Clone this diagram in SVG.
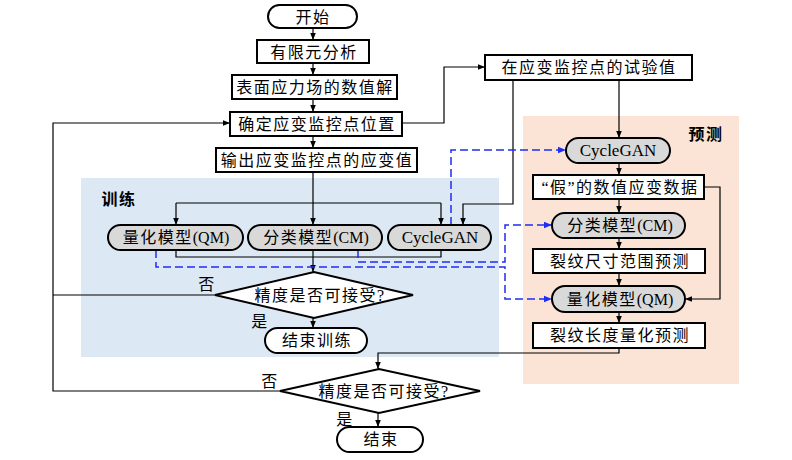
<svg xmlns="http://www.w3.org/2000/svg" width="792" height="460" viewBox="0 0 792 460">
<style>
text{font-family:"Liberation Serif","Noto Sans CJK SC",serif;font-size:16px;fill:#000;text-anchor:middle;dominant-baseline:central;letter-spacing:1.5px}
.lat{letter-spacing:0;font-size:17px}
.box{fill:#fff;stroke:#000;stroke-width:2}
.pill{fill:#d9d9d9;stroke:#000;stroke-width:2}
.term{fill:#fff;stroke:#000;stroke-width:2}
.dia{fill:#fff;stroke:#000;stroke-width:2}
.ln{fill:none;stroke:#000;stroke-width:1.2}
.bl{fill:none;stroke:#1f2ef0;stroke-width:1.5;stroke-dasharray:8 4}
.lab{font-weight:bold}
</style>
<defs>
<marker id="ah" viewBox="0 0 10 10" refX="10" refY="5" markerWidth="7" markerHeight="7" orient="auto" markerUnits="userSpaceOnUse"><path d="M0,1 L10,5 L0,9 z" fill="#000"/></marker>
<marker id="ab" viewBox="0 0 10 10" refX="10" refY="5" markerWidth="8" markerHeight="8" orient="auto" markerUnits="userSpaceOnUse"><path d="M0,1 L10,5 L0,9 z" fill="#1f2ef0"/></marker>
</defs>
<rect x="0" y="0" width="792" height="460" fill="#fff"/>
<g id="panel-train"><rect x="81" y="178" width="418" height="179" fill="#dce8f4"/><text x="119" y="199" class="lab">训练</text></g>
<g id="panel-pred"><rect x="523" y="116" width="216" height="268" fill="#fbe4d5"/><text x="706" y="134" class="lab">预测</text></g>

<g id="connectors">
<path class="ln" d="M313,28 V40" marker-end="url(#ah)"/>
<path class="ln" d="M313,63 V75" marker-end="url(#ah)"/>
<path class="ln" d="M313,99 V112" marker-end="url(#ah)"/>
<path class="ln" d="M313,136 V148" marker-end="url(#ah)"/>
<path class="ln" d="M313,172 V225" marker-end="url(#ah)"/>
<path class="ln" d="M176,203 H441"/>
<path class="ln" d="M176,203 V225" marker-end="url(#ah)"/>
<path class="ln" d="M441,203 V225" marker-end="url(#ah)"/>
<path class="ln" d="M402,123 H444 V67 H485" marker-end="url(#ah)"/>
<path class="ln" d="M513,80 V204 H463 V225" marker-end="url(#ah)"/>
<path class="ln" d="M619,80 V138" marker-end="url(#ah)"/>
<path class="ln" d="M176,250 V257 H441 V250"/>
<path class="ln" d="M313,250 V272" marker-end="url(#ah)"/>
<path class="ln" d="M313,318 V328" marker-end="url(#ah)"/>
<path class="ln" d="M215,295 H53"/>
<path class="ln" d="M280,391 H53 V123 H230" marker-end="url(#ah)"/>
<path class="ln" d="M619,163 V175" marker-end="url(#ah)"/>
<path class="ln" d="M619,199 V213" marker-end="url(#ah)"/>
<path class="ln" d="M619,238 V249" marker-end="url(#ah)"/>
<path class="ln" d="M619,273 V286" marker-end="url(#ah)"/>
<path class="ln" d="M619,312 V323" marker-end="url(#ah)"/>
<path class="ln" d="M704,187 H720 V299 H685" marker-end="url(#ah)"/>
<path class="ln" d="M619,348 V353 H378 V369" marker-end="url(#ah)"/>
<path class="ln" d="M378,413 V427" marker-end="url(#ah)"/>
<path class="bl" d="M451,225 V150 H566" marker-end="url(#ab)"/>
<path class="bl" d="M358,250 V262 H505 V225 H552" marker-end="url(#ab)"/>
<path class="bl" d="M156,250 V267 H505 V299 H552" marker-end="url(#ab)"/>
</g>

<g id="start"><rect class="term" x="268" y="5" width="89" height="23" rx="11.5"/><text x="313" y="17">开始</text></g>
<g id="fem"><rect class="box" x="257" y="40" width="112" height="23"/><text x="314" y="52">有限元分析</text></g>
<g id="surface"><rect class="box" x="232" y="75" width="165" height="24"/><text x="315" y="87">表面应力场的数值解</text></g>
<g id="locate"><rect class="box" x="230" y="112" width="172" height="24"/><text x="317" y="124">确定应变监控点位置</text></g>
<g id="output"><rect class="box" x="216" y="148" width="201" height="24"/><text x="317" y="160">输出应变监控点的应变值</text></g>
<g id="testval"><rect class="box" x="485" y="55" width="207" height="25"/><text x="589" y="67">在应变监控点的试验值</text></g>

<g id="qm-train"><rect class="pill" x="108" y="225" width="135" height="25" rx="12.5"/><text x="176" y="237">量化模型<tspan class="lat" style="font-size:16px">(QM)</tspan></text></g>
<g id="cm-train"><rect class="pill" x="248" y="225" width="134" height="25" rx="12.5"/><text x="316" y="237">分类模型<tspan class="lat" style="font-size:16px">(CM)</tspan></text></g>
<g id="gan-train"><rect class="pill" x="388" y="225" width="103" height="25" rx="12.5"/><text x="440" y="237" class="lat">CycleGAN</text></g>

<g id="dec-train"><path class="dia" d="M215,295 L314,272 L413,295 L314,318 Z"/><text x="320" y="295">精度是否可接受?</text>
<text x="207" y="284">否</text><text x="260" y="321">是</text></g>
<g id="end-train"><rect class="term" x="265" y="328" width="102" height="25" rx="12.5"/><text x="317" y="340">结束训练</text></g>

<g id="gan-pred"><rect class="pill" x="566" y="138" width="104" height="25" rx="12.5"/><text x="618" y="150" class="lat">CycleGAN</text></g>
<g id="fake"><rect class="box" x="533" y="175" width="171" height="24"/><text x="620" y="187">“假”的数值应变数据</text></g>
<g id="cm-pred"><rect class="pill" x="552" y="213" width="133" height="25" rx="12.5"/><text x="620" y="225">分类模型<tspan class="lat" style="font-size:16px">(CM)</tspan></text></g>
<g id="range"><rect class="box" x="533" y="249" width="172" height="24"/><text x="620" y="261">裂纹尺寸范围预测</text></g>
<g id="qm-pred"><rect class="pill" x="552" y="286" width="133" height="26" rx="13"/><text x="620" y="299">量化模型<tspan class="lat" style="font-size:16px">(QM)</tspan></text></g>
<g id="length"><rect class="box" x="533" y="323" width="172" height="25"/><text x="620" y="335">裂纹长度量化预测</text></g>

<g id="dec-final"><path class="dia" d="M280,391 L379,369 L480,391 L379,413 Z"/><text x="384" y="391">精度是否可接受?</text>
<text x="270" y="381">否</text><text x="345" y="419">是</text></g>
<g id="end"><rect class="term" x="337" y="427" width="86" height="25" rx="12.5"/><text x="381" y="439">结束</text></g>
</svg>
